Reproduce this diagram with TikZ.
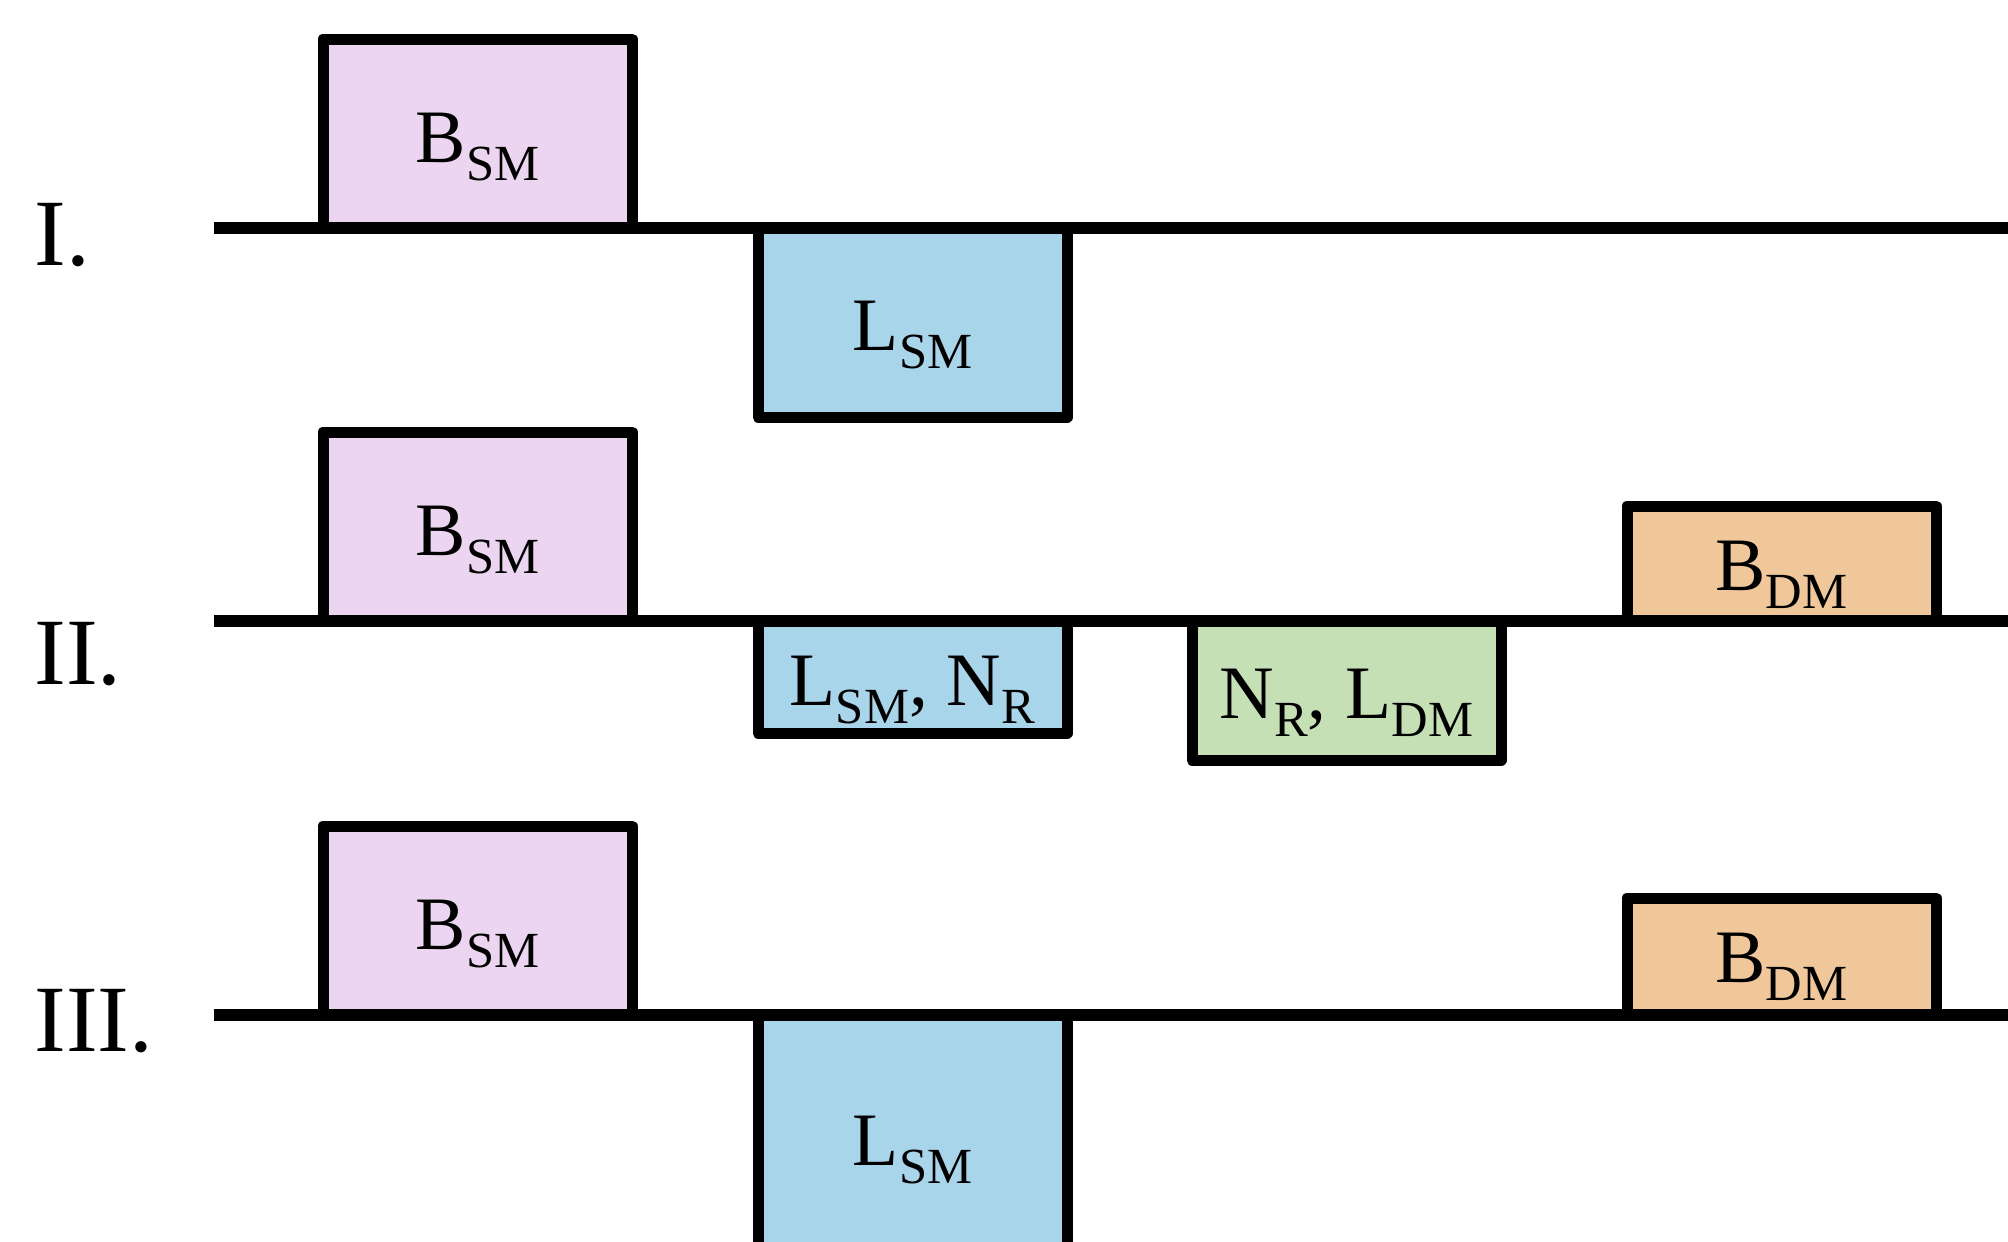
\documentclass[tikz,border=0pt]{standalone}
\usepackage{fontspec}
\setmainfont{Liberation Serif}

% subscript set lower and smaller, in the style of a slide deck
\newcommand\lowtxt[1]{\raisebox{-9pt}{\fontsize{25.3pt}{26pt}\selectfont #1}}

\definecolor{bsmfill}{RGB}{236,213,240}
\definecolor{lsmfill}{RGB}{169,213,234}
\definecolor{nrfill}{RGB}{197,224,180}
\definecolor{bdmfill}{RGB}{239,199,155}

\begin{document}
\begin{tikzpicture}[x=0.5pt,y=-0.5pt,
  blk/.style={draw=black, line width=5.5pt, line join=round, inner sep=0pt,
              outer sep=0pt, minimum width=154.5pt, anchor=north west},
  axisline/.style={draw=black, line width=5.75pt},
  lbl/.style={anchor=base, inner sep=0pt, font=\fontsize{37.75pt}{40pt}\selectfont},
  rowlbl/.style={anchor=base west, inner sep=0pt, font=\fontsize{47.5pt}{50pt}\selectfont}]

\clip (0,0) rectangle (2008,1242);
\fill[white] (0,0) rectangle (2008,1242);

% ---------- row I ----------
\node[blk, fill=bsmfill, minimum height=94.5pt] (b1) at (323,39) {};
\node[blk, fill=lsmfill, minimum height=94.5pt] (l1) at (758,228) {};
\node[lbl] (tb1) at (477.5,162) {B\lowtxt{SM}};
\node[lbl] (tl1) at (912.5,350) {L\lowtxt{SM}};
\coordinate (s1) at (214,228);
\coordinate (e1) at (2030,228);
\draw[axisline] (s1) -- (e1);
\node[rowlbl] (r1) at (34,265) {I.};

% ---------- row II ----------
\node[blk, fill=bsmfill, minimum height=94.5pt] (b2) at (323,432) {};
\node[blk, fill=lsmfill, minimum height=56pt] (l2) at (758,621) {};
\node[blk, fill=nrfill, minimum height=69.5pt] (n2) at (1192,621) {};
\node[blk, fill=bdmfill, minimum height=57.5pt] (d2) at (1627,506) {};
\node[lbl] (tb2) at (477.5,555) {B\lowtxt{SM}};
\node[lbl] (tl2) at (912.5,705) {L\lowtxt{SM}, N\lowtxt{R}};
\node[lbl] (tn2) at (1346.5,718) {N\lowtxt{R}, L\lowtxt{DM}};
\node[lbl] (td2) at (1781.5,590) {B\lowtxt{DM}};
\coordinate (s2) at (214,621);
\coordinate (e2) at (2030,621);
\draw[axisline] (s2) -- (e2);
\node[rowlbl] (r2) at (34,684) {II.};

% ---------- row III ----------
\node[blk, fill=bsmfill, minimum height=94.5pt] (b3) at (323,826) {};
\node[blk, fill=lsmfill, minimum height=140pt] (l3) at (758,1015) {};
\node[blk, fill=bdmfill, minimum height=58.5pt] (d3) at (1627,898) {};
\node[lbl] (tb3) at (477.5,949) {B\lowtxt{SM}};
\node[lbl] (tl3) at (912.5,1165) {L\lowtxt{SM}};
\node[lbl] (td3) at (1781.5,982) {B\lowtxt{DM}};
\coordinate (s3) at (214,1015);
\coordinate (e3) at (2030,1015);
\draw[axisline] (s3) -- (e3);
\node[rowlbl] (r3) at (34,1051) {III.};

\end{tikzpicture}
\end{document}
